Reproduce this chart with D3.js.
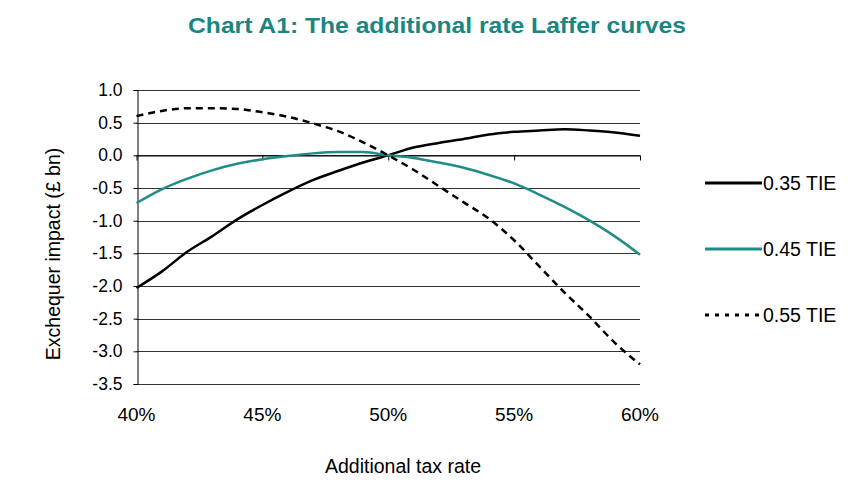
<!DOCTYPE html>
<html><head><meta charset="utf-8">
<script src="https://cdn.jsdelivr.net/npm/d3@7"></script>
<style>body{margin:0;background:#fff}svg{display:block}text{font-family:"Liberation Sans",Arial,sans-serif}</style>
</head><body><div id="chart"></div>
<script>
const rates = [40,41,42,43,44,45,46,47,48,49,50,51,52,53,54,55,56,57,58,59,60];
const tie035 = [-2.03,-1.78,-1.48,-1.24,-0.98,-0.76,-0.56,-0.38,-0.24,-0.11,0.0,0.12,0.19,0.25,0.32,0.36,0.38,0.40,0.38,0.35,0.30];
const tie045 = [-0.73,-0.52,-0.36,-0.23,-0.13,-0.06,-0.01,0.03,0.05,0.05,0.0,-0.04,-0.11,-0.19,-0.30,-0.43,-0.60,-0.79,-1.00,-1.24,-1.52];
const tie055 = [0.60,0.68,0.72,0.72,0.71,0.66,0.59,0.49,0.37,0.20,0.0,-0.22,-0.47,-0.72,-0.97,-1.30,-1.70,-2.10,-2.47,-2.87,-3.20];
const seriesNames = ["0.35 TIE","0.45 TIE","0.55 TIE"];
const yTicks = [1.0,0.5,0.0,-0.5,-1.0,-1.5,-2.0,-2.5,-3.0,-3.5];
const xTicks = [40,45,50,55,60];

const W=868,H=489;
const svg=d3.select("#chart").append("svg").attr("width",W).attr("height",H);
const x=d3.scaleLinear().domain([40,60]).range([136.5,640]);
const y=d3.scaleLinear().domain([-3.5,1.0]).range([384,90]);

svg.append("text").attr("x",437).attr("y",33).attr("text-anchor","middle")
  .attr("font-size",22).attr("font-weight","bold").attr("fill","#1a8682")
  .attr("textLength",498).attr("lengthAdjust","spacingAndGlyphs")
  .text("Chart A1: The additional rate Laffer curves");

// gridlines
svg.append("g").selectAll("line").data(yTicks).join("line")
  .attr("x1",x(40)).attr("x2",x(60)).attr("y1",d=>Math.round(y(d))+0.5).attr("y2",d=>Math.round(y(d))+0.5)
  .attr("stroke","#333").attr("stroke-width",1);

// y axis
const yAxis=d3.axisLeft(y).tickValues(yTicks).tickFormat(d=>d.toFixed(1)).tickSize(4).tickPadding(11);
const gy=svg.append("g").attr("transform",`translate(${Math.round(x(40))+0.5},0)`).call(yAxis);
gy.select(".domain").attr("stroke","#000");
gy.selectAll(".tick line").attr("stroke","#000");
gy.selectAll("text").attr("font-size",17.5).attr("fill","#000").style("font-family","Liberation Sans, Arial, sans-serif");

// x axis at y=0 with ticks only, labels at bottom
const xAxis=d3.axisBottom(x).tickValues(xTicks).tickFormat("").tickSize(5).tickSizeOuter(0);
const gx=svg.append("g").attr("transform",`translate(0,${Math.round(y(0))+0.5})`).call(xAxis);
gx.select(".domain").attr("stroke","#000");
gx.selectAll(".tick line").attr("stroke","#000");
svg.append("g").selectAll("text").data(xTicks).join("text")
  .attr("x",d=>x(d)).attr("y",421).attr("text-anchor","middle").attr("font-size",19).attr("fill","#000")
  .text(d=>d+"%");

svg.append("text").attr("x",403).attr("y",473).attr("text-anchor","middle").attr("font-size",19.5).attr("fill","#000")
  .text("Additional tax rate");
svg.append("text").attr("transform","translate(60,254) rotate(-90)").attr("text-anchor","middle")
  .attr("font-size",19.5).attr("fill","#000").text("Exchequer impact (£ bn)");

const line=d3.line().x((d,i)=>x(rates[i])).y(d=>y(d)).curve(d3.curveMonotoneX);
const styles=[{c:"#000",w:2.5,dash:null},{c:"#1f8c86",w:2.5,dash:null},{c:"#000",w:2.5,dash:"7,5"}];
[tie035,tie045,tie055].forEach((s,i)=>{
  svg.append("path").attr("d",line(s)).attr("fill","none").attr("stroke",styles[i].c)
    .attr("stroke-width",styles[i].w).attr("stroke-dasharray",styles[i].dash);
});

const legY=[183,249,315];
seriesNames.forEach((n,i)=>{
  svg.append("line").attr("x1",705).attr("x2",762).attr("y1",legY[i]).attr("y2",legY[i])
    .attr("stroke",styles[i].c).attr("stroke-width",3).attr("stroke-dasharray",i==2?"4,6":null);
  svg.append("text").attr("x",763).attr("y",legY[i]+7).attr("font-size",19.5).attr("fill","#000").text(n);
});
</script></body></html>
